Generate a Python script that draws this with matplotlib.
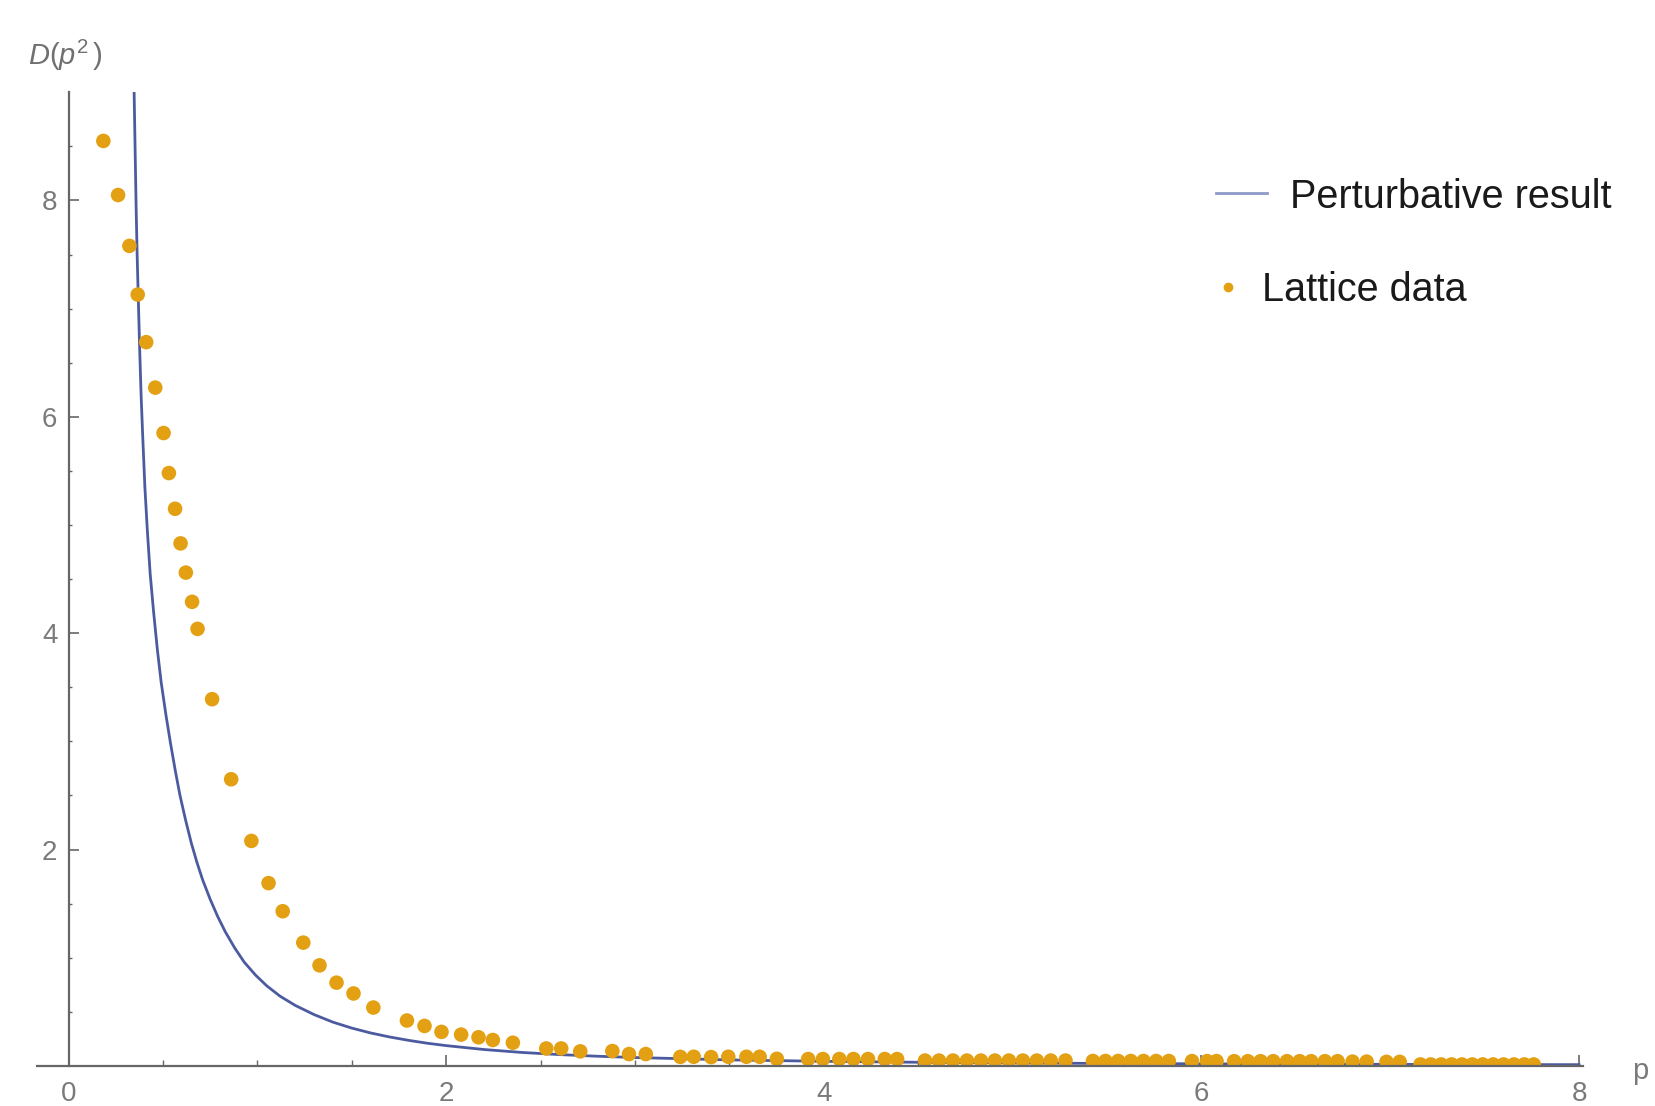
import numpy as np
import matplotlib
matplotlib.use("Agg")
from matplotlib import pyplot as plt
from matplotlib.lines import Line2D

# Perturbative curve
curve_p = [0.347, 0.350, 0.354, 0.358, 0.363, 0.369, 0.376, 0.384, 0.393, 0.404,
           0.417, 0.432, 0.45, 0.47, 0.49, 0.515, 0.54, 0.565, 0.59, 0.62,
           0.65, 0.68, 0.71, 0.75, 0.79, 0.83, 0.88, 0.93, 0.99, 1.05,
           1.12, 1.2, 1.3, 1.4, 1.5, 1.6, 1.7, 1.8, 1.9, 2.0,
           2.2, 2.4, 2.6, 2.8, 3.0, 3.5, 4.0, 4.5, 5.0, 5.5,
           6.0, 6.5, 7.0, 7.5, 8.0]
curve_D = [9.0, 8.7, 8.3, 7.9, 7.5, 7.1, 6.65, 6.2, 5.8, 5.35,
           4.95, 4.55, 4.2, 3.85, 3.55, 3.25, 2.98, 2.73, 2.5, 2.27,
           2.06, 1.88, 1.72, 1.54, 1.38, 1.24, 1.09, 0.96, 0.84, 0.74,
           0.645, 0.56, 0.475, 0.405, 0.35, 0.305, 0.268, 0.237, 0.21, 0.188,
           0.152, 0.125, 0.105, 0.09, 0.078, 0.056, 0.043, 0.034, 0.028, 0.023,
           0.02, 0.017, 0.015, 0.013, 0.012]

# Lattice data points
lat_p = [0.184, 0.262, 0.322, 0.366, 0.411, 0.459, 0.503, 0.531, 0.564, 0.593,
         0.621, 0.654, 0.683, 0.760, 0.861, 0.968, 1.059, 1.134, 1.243, 1.329,
         1.419, 1.509, 1.614, 1.792, 1.885, 1.975, 2.079, 2.171, 2.247, 2.353,
         2.530, 2.609, 2.710, 2.880, 2.968, 3.057, 3.240, 3.311, 3.403, 3.494,
         3.590, 3.660, 3.751, 3.917, 3.995, 4.082, 4.157, 4.234, 4.323, 4.388,
         4.536, 4.610, 4.684, 4.758, 4.832, 4.906, 4.980, 5.054, 5.128, 5.202,
         5.280, 5.425, 5.492, 5.559, 5.626, 5.693, 5.760, 5.827, 5.950, 6.030,
         6.080, 6.173, 6.246, 6.313, 6.380, 6.453, 6.520, 6.581, 6.654, 6.721,
         6.800, 6.875, 6.980, 7.050, 7.160, 7.215, 7.270, 7.325, 7.380, 7.435,
         7.490, 7.545, 7.600, 7.655, 7.710, 7.760]
lat_D = [8.55, 8.05, 7.58, 7.13, 6.69, 6.27, 5.85, 5.48, 5.15, 4.83,
         4.56, 4.29, 4.04, 3.39, 2.65, 2.08, 1.69, 1.43, 1.14, 0.93,
         0.77, 0.67, 0.54, 0.42, 0.37, 0.315, 0.29, 0.265, 0.24, 0.215,
         0.162, 0.162, 0.135, 0.138, 0.11, 0.11, 0.084, 0.085, 0.082, 0.085,
         0.085, 0.085, 0.066, 0.064, 0.064, 0.064, 0.064, 0.064, 0.064, 0.064,
         0.05, 0.05, 0.05, 0.05, 0.05, 0.05, 0.05, 0.05, 0.05, 0.05,
         0.05, 0.046, 0.046, 0.046, 0.046, 0.046, 0.046, 0.046, 0.045, 0.045,
         0.045, 0.044, 0.044, 0.044, 0.044, 0.044, 0.044, 0.044, 0.044, 0.044,
         0.04, 0.04, 0.038, 0.038, 0.014, 0.014, 0.014, 0.014, 0.014, 0.014,
         0.014, 0.014, 0.014, 0.014, 0.014, 0.014]

xticks = [0, 2, 4, 6, 8]
yticks = [2, 4, 6, 8]

lineColor = '#4C5BA0'
dotColor = '#E2A012'
grey = '#7a7a7a'

plt.rcParams['font.family'] = ['Liberation Sans', 'DejaVu Sans']
plt.rcParams['mathtext.fontset'] = 'custom'
plt.rcParams['mathtext.rm'] = 'Liberation Sans'
plt.rcParams['mathtext.it'] = 'Liberation Sans:italic'

fig = plt.figure(figsize=(16.55, 11.06), dpi=100)
ax = fig.add_axes([0.0224, 0.0362, 0.934, 0.8804])

ax.plot(curve_p, curve_D, color=lineColor, lw=2.0, zorder=2,
        solid_joinstyle='round')
ax.scatter(lat_p, lat_D, s=110, color=dotColor, edgecolors='none', zorder=3)

ax.set_xlim(-0.167, 8.02)
ax.set_ylim(0, 9)

# Mathematica-like axes
for s in ['top', 'right']:
    ax.spines[s].set_visible(False)
ax.spines['left'].set_position(('data', 0))
for s in ['left', 'bottom']:
    ax.spines[s].set_color('#666666')
    ax.spines[s].set_linewidth(1.6)
    ax.spines[s].set_zorder(5)

ax.set_xticks(xticks)
ax.set_yticks(yticks)
ax.set_xticks(np.arange(0.5, 8, 0.5), minor=True)
ax.set_yticks(np.arange(0.5, 9, 0.5), minor=True)
ax.tick_params(axis='x', which='major', direction='in', length=8, width=1.2,
               colors='#666666', labelcolor=grey, labelsize=20, pad=11)
ax.tick_params(axis='x', which='minor', direction='in', length=4, width=1.0,
               colors='#666666')
ax.tick_params(axis='y', which='major', direction='in', length=7, width=1.2,
               colors='#666666', labelcolor=grey, labelsize=20, pad=8)
ax.tick_params(axis='y', which='minor', direction='in', length=2.5, width=1.0,
               colors='#666666')

# axis labels
fig.text(28 / 1655, 1 - 55 / 1106, r'$D(p^2\,)$', fontsize=21, color='#707070',
         ha='left', va='center')
fig.text(1632 / 1655, 1 - 1071 / 1106, 'p', fontsize=21, color=grey,
         ha='left', va='center')

# legend, placed by hand like the original
fig.add_artist(Line2D([1216 / 1655, 1267 / 1655], [1 - 193 / 1106, 1 - 193 / 1106],
                      color='#8C9AC8', lw=2.0, transform=fig.transFigure))
fig.text(1290 / 1655, 1 - 208 / 1106, 'Perturbative result', fontsize=28.5,
         color='#1a1a1a', ha='left', va='baseline')
fig.add_artist(Line2D([1228 / 1655], [1 - 287 / 1106], marker='o', markersize=7,
                      color=dotColor, markeredgewidth=0, linestyle='none',
                      transform=fig.transFigure))
fig.text(1262 / 1655, 1 - 301 / 1106, 'Lattice data', fontsize=28.5,
         color='#1a1a1a', ha='left', va='baseline')

plt.savefig('out.png', dpi=100)
